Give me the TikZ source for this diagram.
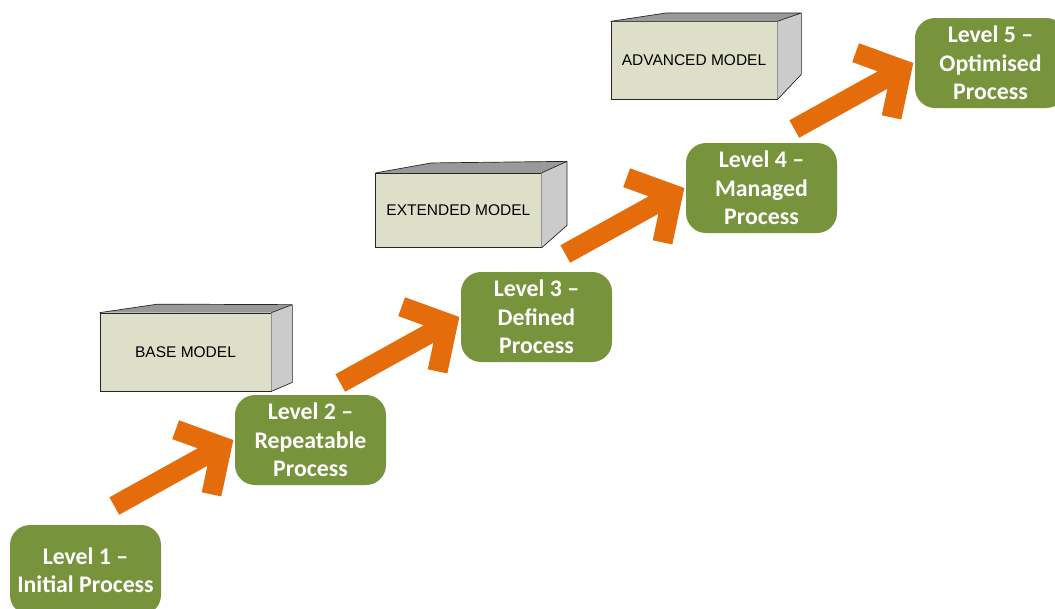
\documentclass[tikz,border=0pt]{standalone}
\usepackage{fontspec}
\setmainfont{Liberation Sans}
\newfontfamily\levelfont{Carlito}
\usetikzlibrary{calc}

\definecolor{levelgreen}{HTML}{77933C}
\definecolor{stairorange}{HTML}{E46C0A}
\definecolor{modelfrontfill}{HTML}{DDDFC9}
\definecolor{modelsidefill}{HTML}{CBCBCB}
\definecolor{modeltopfill}{HTML}{999999}

\tikzset{
  levelbox/.style={fill=levelgreen, rounded corners=20pt, minimum width=151pt,
    minimum height=90pt, inner sep=0pt, text=white, align=center,
    font=\levelfont\bfseries\fontsize{23.8pt}{28.5pt}\selectfont},
  modelfront/.style={draw=black!85, line width=0.7pt, fill=modelfrontfill,
    inner sep=0pt, font=\fontsize{15.5pt}{18pt}\selectfont},
  modelface/.style={draw=black!85, line width=0.7pt, line join=round},
  stairarrow/.style={draw=stairorange, line width=20pt, line cap=butt, line join=miter},
}

% thick chevron arrow from a tail coordinate to a tip coordinate
\newcommand\levelarrow[2]{%
  \coordinate (#2v) at ($(#2)!13.25pt!(#1)$);
  \draw[stairarrow] (#1) -- (#2v)
    ($(#2v)!49pt!49:(#1)$) -- (#2v) -- ($(#2v)!49pt!-49:(#1)$);
}

\begin{document}
\begin{tikzpicture}[x=1pt,y=-1pt]
  \useasboundingbox (0,0) rectangle (1055,608);
  \clip (0,0) rectangle (1055,608);

  % maturity levels
  \node[levelbox] (L1) at (85.5,570)  {Level 1 –\\Initial Process};
  \node[levelbox] (L2) at (310.5,440) {Level 2 –\\Repeatable\\Process};
  \node[levelbox] (L3) at (536.5,317) {Level 3 –\\Defined\\Process};
  \node[levelbox] (L4) at (761.5,188) {Level 4 –\\Managed\\Process};
  \node[levelbox] (L5) at (990.5,63)  {Level 5 –\\Optimised\\Process};

  % arrows climbing between levels
  \foreach \nxt/\k in {L2/1, L3/2, L4/3, L5/4} {
    \coordinate (h\k) at ($(\nxt.west)+(-1.5,0)$);
    \coordinate (t\k) at ($(h\k)+(-119,66)$);
  }
  \levelarrow{t1}{h1}
  \levelarrow{t2}{h2}
  \levelarrow{t3}{h3}
  \levelarrow{t4}{h4}

  % model blocks
  \node[modelfront, minimum width=171pt, minimum height=78pt] (base) at (185.5,352) {BASE MODEL};
  \fill[modeltopfill] (base.north west) -- ++(58,-8.5) -- ($(base.north east)+(21,-8)$) -- (base.north east) -- cycle;
  \fill[modelsidefill] (base.north east) -- ++(21,-8) -- ($(base.south east)+(21,-9)$) -- (base.south east) -- cycle;
  \draw[modelface] (base.north west) -- ++(58,-8.5) -- ($(base.north east)+(21,-8)$) -- (base.north east)
    ($(base.north east)+(21,-8)$) -- ($(base.south east)+(21,-9)$) -- (base.south east);

  \node[modelfront, minimum width=165.3pt, minimum height=74.4pt] (ext) at (458.35,210.5) {EXTENDED MODEL};
  \fill[modeltopfill] (ext.north west) -- ++(56,-10) -- ($(ext.north east)+(25.7,-11.6)$) -- (ext.north east) -- cycle;
  \fill[modelsidefill] (ext.north east) -- ++(25.7,-11.6) -- ($(ext.south east)+(25.7,-22.7)$) -- (ext.south east) -- cycle;
  \draw[modelface] (ext.north west) -- ++(56,-10) -- ($(ext.north east)+(25.7,-11.6)$) -- (ext.north east)
    ($(ext.north east)+(25.7,-11.6)$) -- ($(ext.south east)+(25.7,-22.7)$) -- (ext.south east);

  \node[modelfront, minimum width=166pt, minimum height=77.6pt] (adv) at (694,60.5) {ADVANCED MODEL};
  \fill[modeltopfill] (adv.north west) -- ++(55.7,-8.4) -- ($(adv.north east)+(24,-8.4)$) -- (adv.north east) -- cycle;
  \fill[modelsidefill] (adv.north east) -- ++(24,-8.4) -- ($(adv.south east)+(24,-25.3)$) -- (adv.south east) -- cycle;
  \draw[modelface] (adv.north west) -- ++(55.7,-8.4) -- ($(adv.north east)+(24,-8.4)$) -- (adv.north east)
    ($(adv.north east)+(24,-8.4)$) -- ($(adv.south east)+(24,-25.3)$) -- (adv.south east);
\end{tikzpicture}
\end{document}
